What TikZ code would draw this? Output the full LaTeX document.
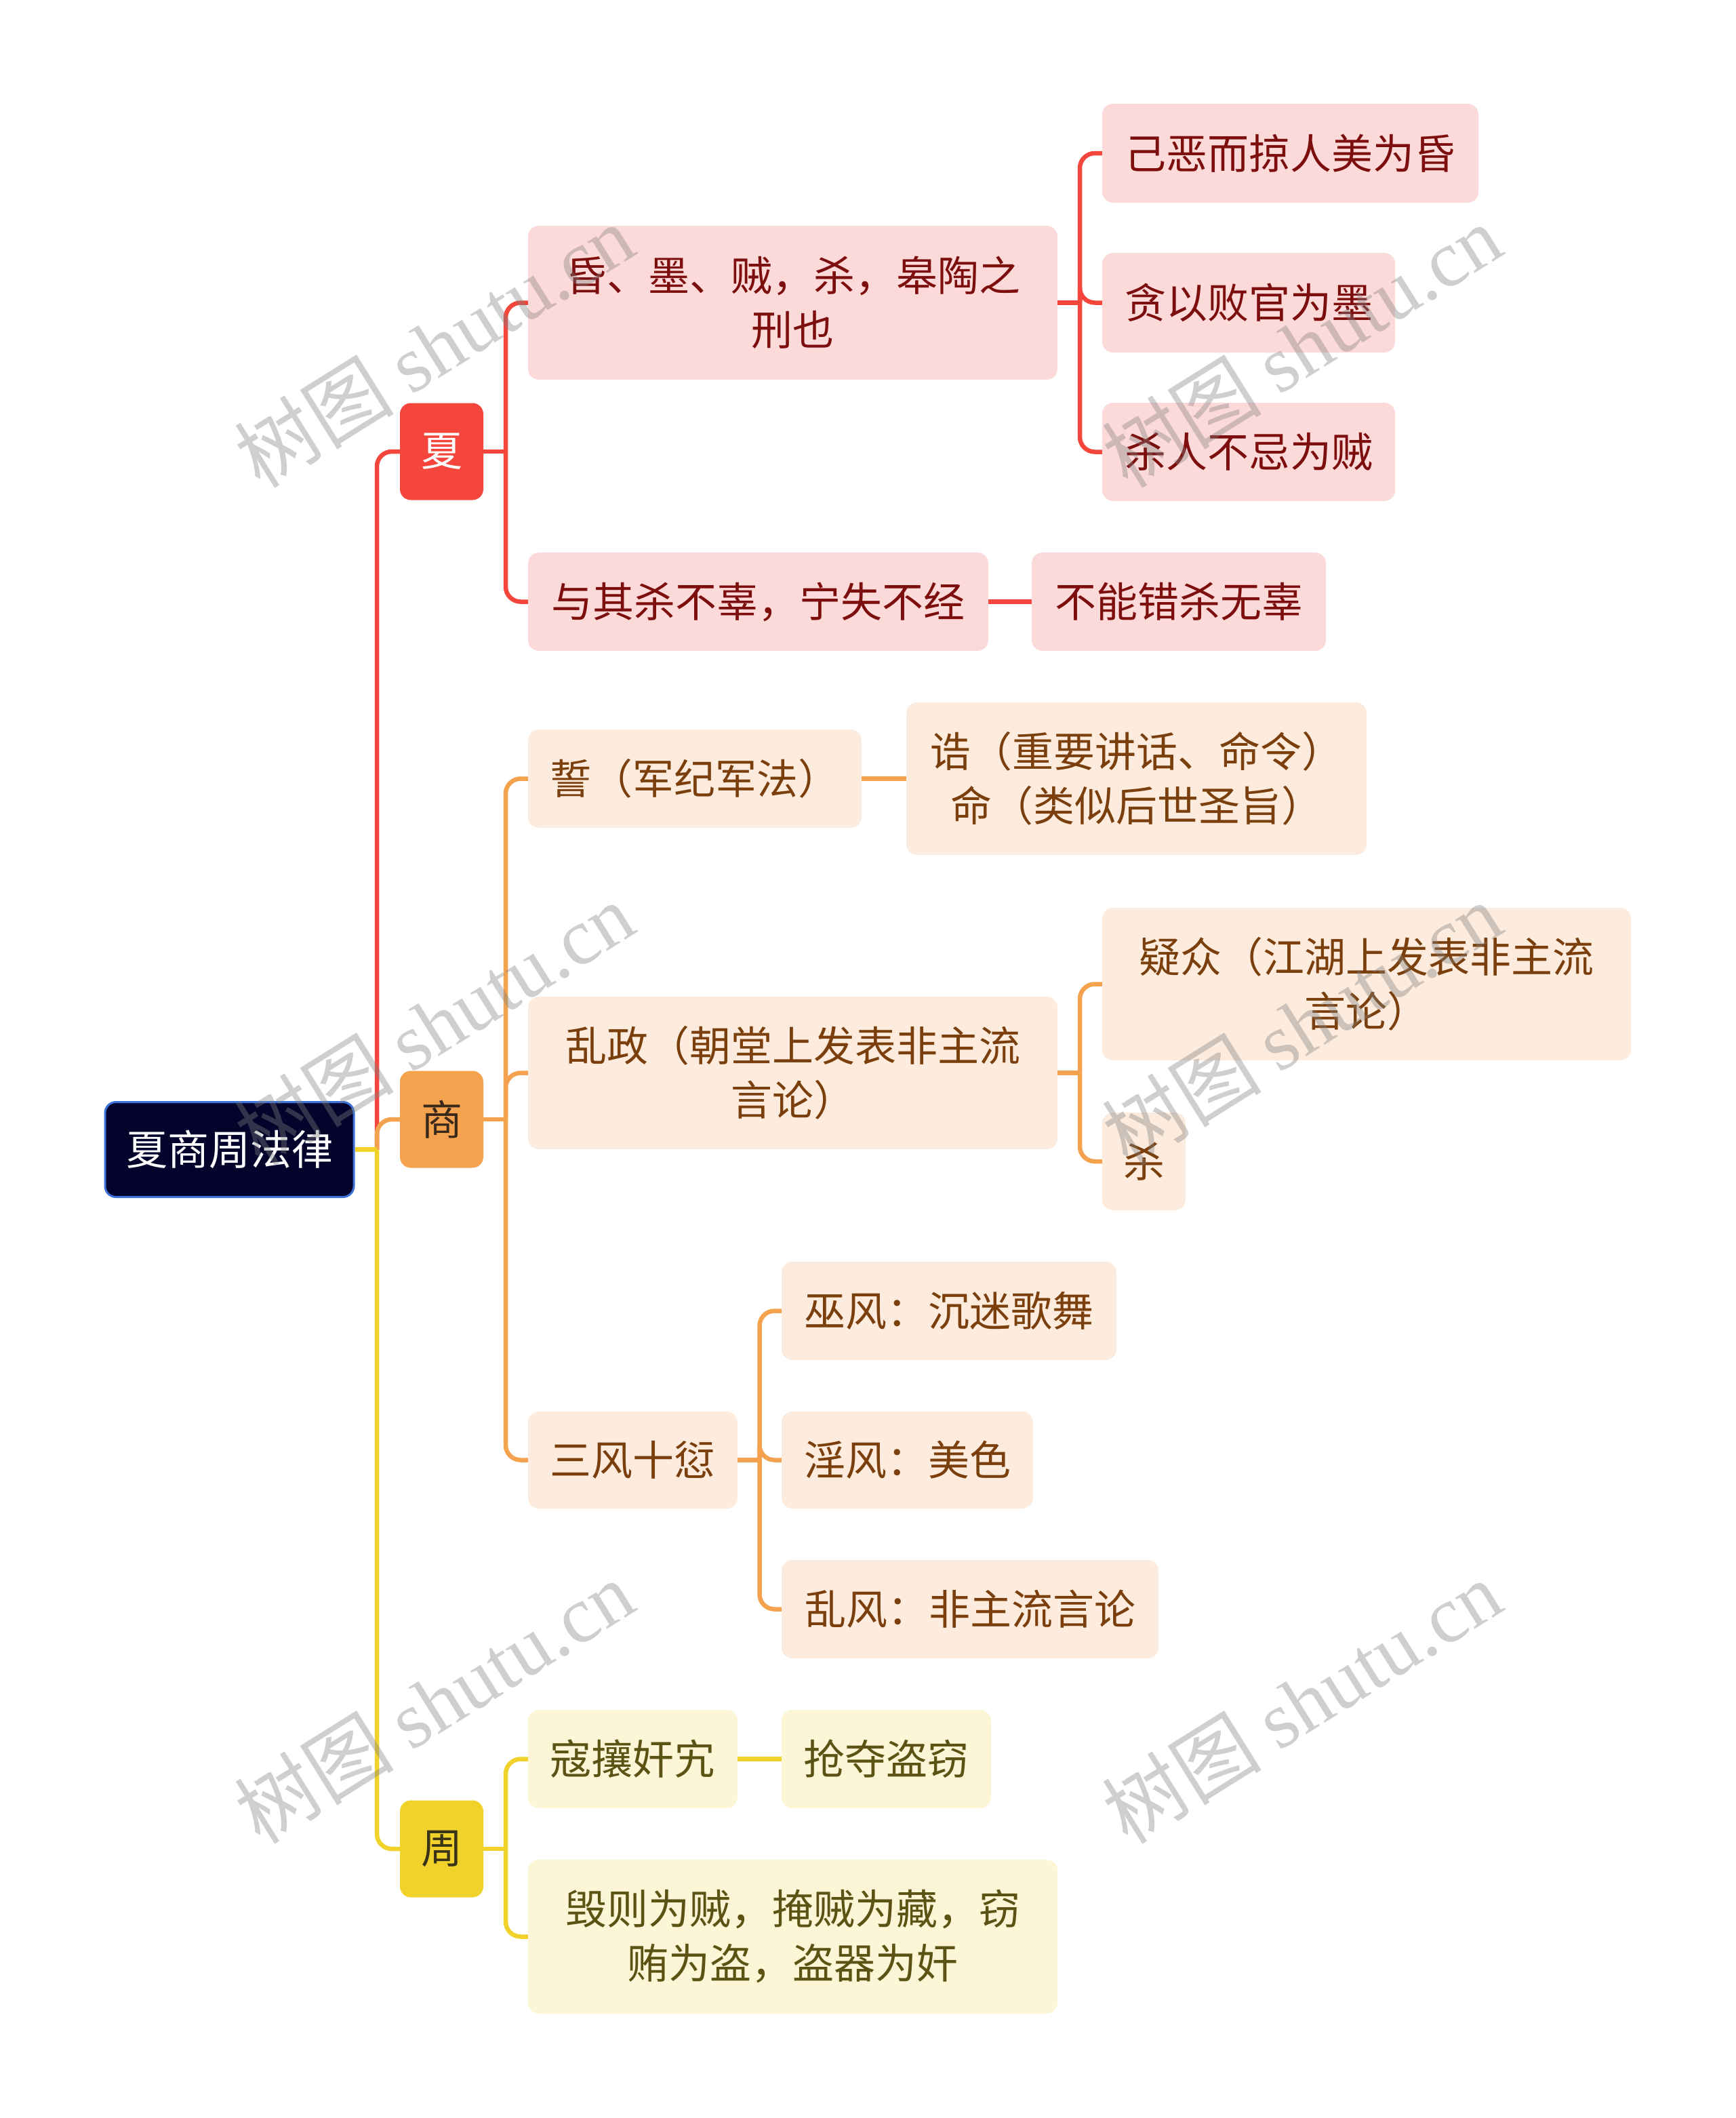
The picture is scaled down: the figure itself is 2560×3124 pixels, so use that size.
\documentclass[tikz,border=0pt]{standalone}
\usepackage{fontspec}
\setmainfont{Noto Sans CJK SC}
\newfontfamily\wmlatin{Liberation Serif}
\definecolor{cRed}{HTML}{F4463D}
\definecolor{cOrg}{HTML}{F4A24E}
\definecolor{cYel}{HTML}{F0D22B}
\definecolor{fRed}{HTML}{FDDADA}
\definecolor{fOrg}{HTML}{FDECDD}
\definecolor{fYel}{HTML}{FCF6D6}
\definecolor{tRed}{HTML}{7D0E0E}
\definecolor{tOrg}{HTML}{7A3F0C}
\definecolor{tYel}{HTML}{5C5214}
\definecolor{rootF}{HTML}{03032C}
\definecolor{rootB}{HTML}{3C72D8}
\newcommand\bx[7]{\node[#1, minimum width=#5pt, minimum height=#6pt] (#2) at (#3,#4) {#7};}
\begin{document}
\begin{tikzpicture}[x=1pt,y=-1pt,
  box/.style={rounded corners=16pt, inner sep=0pt, align=center, font=\fontsize{61}{80}\selectfont},
  rootbox/.style={box, fill=rootF, draw=rootB, line width=3pt, text=white},
  xiamain/.style={box, fill=cRed, text=white},
  shangmain/.style={box, fill=cOrg, text={rgb,255:red,58;green,40;blue,26}},
  zhoumain/.style={box, fill=cYel, text={rgb,255:red,58;green,52;blue,22}},
  xiasub/.style={box, fill=fRed, text=tRed},
  shangsub/.style={box, fill=fOrg, text=tOrg},
  zhousub/.style={box, fill=fYel, text=tYel},
  link/.style={line width=6.5pt, rounded corners=22pt},
  wm/.style={rotate=32, text=gray, opacity=0.38, font=\fontsize{118}{118}\selectfont, inner sep=0pt}
]
\useasboundingbox (0,0) rectangle (2560,3124);

% nodes
\bx{rootbox}{root}{338.5}{1695.5}{367}{140}{夏商周法律}
\bx{xiamain}{xia}{651.5}{666}{123}{143}{夏}
\bx{shangmain}{shang}{651.5}{1651}{123}{143}{商}
\bx{zhoumain}{zhou}{651.5}{2727}{123}{143}{周}

\bx{xiasub}{a1}{1169.5}{446.5}{781}{227}{昏、墨、贼，杀，皋陶之\\刑也}
\bx{xiasub}{a2}{1118.5}{887.5}{679}{145}{与其杀不辜，宁失不经}
\bx{xiasub}{a1a}{1903.5}{226}{555}{146}{己恶而掠人美为昏}
\bx{xiasub}{a1b}{1842}{446.5}{432}{147}{贪以败官为墨}
\bx{xiasub}{a1c}{1842}{666.5}{432}{145}{杀人不忌为贼}
\bx{xiasub}{a2a}{1739}{887.5}{434}{145}{不能错杀无辜}

\bx{shangsub}{b1}{1025}{1148.5}{492}{145}{誓（军纪军法）}
\bx{shangsub}{b1a}{1676.5}{1148.5}{679}{225}{诰（重要讲话、命令）\\命（类似后世圣旨）}
\bx{shangsub}{b2}{1169.5}{1582.5}{781}{225}{乱政（朝堂上发表非主流\\言论）}
\bx{shangsub}{b2a}{2016}{1451.5}{780}{225}{疑众（江湖上发表非主流\\言论）}
\bx{shangsub}{b2b}{1687.5}{1713}{123}{144}{杀}
\bx{shangsub}{b3}{933.5}{2153.5}{309}{143}{三风十愆}
\bx{shangsub}{b3a}{1400}{1933.5}{494}{145}{巫风：沉迷歌舞}
\bx{shangsub}{b3b}{1338.5}{2153.5}{371}{143}{淫风：美色}
\bx{shangsub}{b3c}{1431}{2373.5}{556}{145}{乱风：非主流言论}

\bx{zhousub}{c1}{933.5}{2594.5}{309}{145}{寇攘奸宄}
\bx{zhousub}{c1a}{1307.5}{2594.5}{309}{145}{抢夺盗窃}
\bx{zhousub}{c2}{1169.5}{2856.5}{781}{227}{毁则为贼，掩贼为藏，窃\\贿为盗，盗器为奸}

% junctions
\coordinate (j0) at (556,1695.5);
\coordinate (jx) at (746,666);
\coordinate (ja) at (1593,446.5);
\coordinate (js) at (746,1651);
\coordinate (jb2) at (1593,1582.5);
\coordinate (jb3) at (1120.5,2153.5);
\coordinate (jz) at (746,2727);

% root links
\draw[link,cRed] (j0) |- (xia.west);
\draw[link,cOrg] (j0) |- (shang.west);
\draw[link,cYel] (j0) |- (zhou.west);
\draw[link,cYel] (root.east) -- (j0);

% xia
\draw[link,cRed] (xia.east) -- (jx);
\draw[link,cRed] (jx) |- (a1.west);
\draw[link,cRed] (jx) |- (a2.west);
\draw[link,cRed] (a1.east) -- (ja);
\draw[link,cRed] (ja) |- (a1a.west);
\draw[link,cRed] (ja) |- (a1b.west);
\draw[link,cRed] (ja) |- (a1c.west);
\draw[link,cRed] (a2.east) -- (a2a.west);

% shang
\draw[link,cOrg] (shang.east) -- (js);
\draw[link,cOrg] (js) |- (b1.west);
\draw[link,cOrg] (js) |- (b2.west);
\draw[link,cOrg] (js) |- (b3.west);
\draw[link,cOrg] (b1.east) -- (b1a.west);
\draw[link,cOrg] (b2.east) -- (jb2);
\draw[link,cOrg] (jb2) |- (b2a.west);
\draw[link,cOrg] (jb2) |- (b2b.west);
\draw[link,cOrg] (b3.east) -- (jb3);
\draw[link,cOrg] (jb3) |- (b3a.west);
\draw[link,cOrg] (jb3) |- (b3b.west);
\draw[link,cOrg] (jb3) |- (b3c.west);

% zhou
\draw[link,cYel] (zhou.east) -- (jz);
\draw[link,cYel] (jz) |- (c1.west);
\draw[link,cYel] (jz) |- (c2.west);
\draw[link,cYel] (c1.east) -- (c1a.west);

% watermarks
\node[wm] (w1) at (640,510) {树图 {\wmlatin shutu.cn}};
\node[wm] (w2) at (1920,510) {树图 {\wmlatin shutu.cn}};
\node[wm] (w3) at (640,1510) {树图 {\wmlatin shutu.cn}};
\node[wm] (w4) at (1920,1510) {树图 {\wmlatin shutu.cn}};
\node[wm] (w5) at (640,2510) {树图 {\wmlatin shutu.cn}};
\node[wm] (w6) at (1920,2510) {树图 {\wmlatin shutu.cn}};
\end{tikzpicture}
\end{document}
